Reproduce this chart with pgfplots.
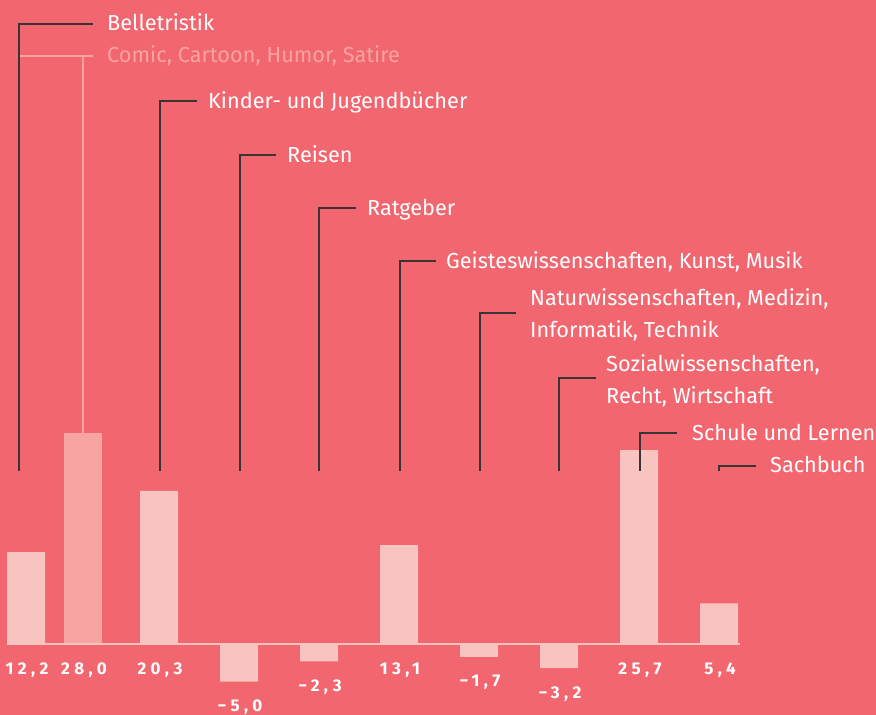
\documentclass[border=0pt]{standalone}
\usepackage{fontspec}
\setmainfont{Fira Sans}[UprightFont=* Light, BoldFont=* Bold]
\newfontfamily\regfont{Fira Sans}
\usepackage{pgfplots}
\pgfplotsset{compat=1.18}
\definecolor{bg}{HTML}{F2666F}
\definecolor{barc}{HTML}{F9C4C0}
\definecolor{barcomic}{HTML}{F7A3A1}
\definecolor{lead}{HTML}{3B3336}
\definecolor{comictext}{HTML}{F8A3A3}
\newcommand\Y[1]{(644-#1)/7.54}
\begin{document}
\begin{tikzpicture}
\fill[bg] (0,0) rectangle (876pt,715pt);
\begin{axis}[at={(0,0)}, anchor=south west, width=876pt, height=715pt,
  scale only axis, hide axis, xmin=0, xmax=876, ymin=-9.416, ymax=85.41, clip=false]
\addplot[ybar, bar width=38pt, fill=barc, draw=none] coordinates {(26,12.2) (159,20.3) (239,-5.0) (319,-2.3) (399,13.1) (479,-1.7) (559,-3.2) (639,25.7) (719,5.4)};
\addplot[ybar, bar width=38pt, fill=barcomic, draw=none] coordinates {(83,28.0)};
\draw[barc, line width=1.5pt] (axis cs:7,0) -- (axis cs:740,0);
\addplot[draw=none, mark=none, nodes near coords, point meta=explicit symbolic,
  nodes near coords style={anchor=base, yshift=-30pt, xshift=1pt, text=white, inner sep=0pt,
  font=\fontsize{17}{20}\selectfont\bfseries\addfontfeature{LetterSpace=26}}]
  coordinates {(26,0)[12,2] (83,0)[28,0] (159,0)[20,3] (239,-5.0)[−5,0] (319,-2.3)[−2,3] (399,0)[13,1] (479,-1.7)[−1,7] (559,-3.2)[−3,2] (639,0)[25,7] (719,0)[5,4]};
% leader lines
\tikzset{ld/.style={lead, line width=1.8pt}, lt/.style={anchor=base west, text=white, inner sep=0pt, align=left, font=\regfont\fontsize{21.7}{32}\selectfont}}
\draw[barcomic, line width=1.5pt] (axis cs:19,{\Y{56}}) -- (axis cs:93,{\Y{56}});
\draw[barcomic, line width=1.5pt] (axis cs:83,{\Y{56}}) -- (axis cs:83,{\Y{433}});
\node[lt, text=comictext] at (axis cs:107,{\Y{63}}) {Comic, Cartoon, Humor, Satire};
\draw[ld] (axis cs:19,{\Y{471}}) |- (axis cs:93,{\Y{24}});
\node[lt] at (axis cs:107,{\Y{31}}) {Belletristik};
\draw[ld] (axis cs:160,{\Y{471}}) |- (axis cs:197,{\Y{101}});
\node[lt] at (axis cs:208,{\Y{109}}) {Kinder- und Jugendbücher};
\draw[ld] (axis cs:240,{\Y{471}}) |- (axis cs:276,{\Y{155}});
\node[lt] at (axis cs:287,{\Y{163}}) {Reisen};
\draw[ld] (axis cs:319,{\Y{471}}) |- (axis cs:356,{\Y{208}});
\node[lt] at (axis cs:367,{\Y{216}}) {Ratgeber};
\draw[ld] (axis cs:400,{\Y{471}}) |- (axis cs:436,{\Y{261}});
\node[lt] at (axis cs:446,{\Y{269}}) {Geisteswissenschaften, Kunst, Musik};
\draw[ld] (axis cs:480,{\Y{471}}) |- (axis cs:516,{\Y{313}});
\node[lt] at (axis cs:530,{\Y{338}}) {Naturwissenschaften, Medizin,\\Informatik, Technik};
\draw[ld] (axis cs:559,{\Y{471}}) |- (axis cs:596,{\Y{378}});
\node[lt] at (axis cs:606,{\Y{404}}) {Sozialwissenschaften,\\Recht, Wirtschaft};
\draw[ld] (axis cs:640,{\Y{471}}) |- (axis cs:677,{\Y{433}});
\node[lt] at (axis cs:692,{\Y{440}}) {Schule und Lernen};
\draw[ld] (axis cs:719,{\Y{471}}) |- (axis cs:756,{\Y{466}});
\node[lt] at (axis cs:770,{\Y{473}}) {Sachbuch};
\end{axis}
\pgfresetboundingbox
\path[use as bounding box] (0,0) rectangle (876pt,715pt);
\end{tikzpicture}
\end{document}
